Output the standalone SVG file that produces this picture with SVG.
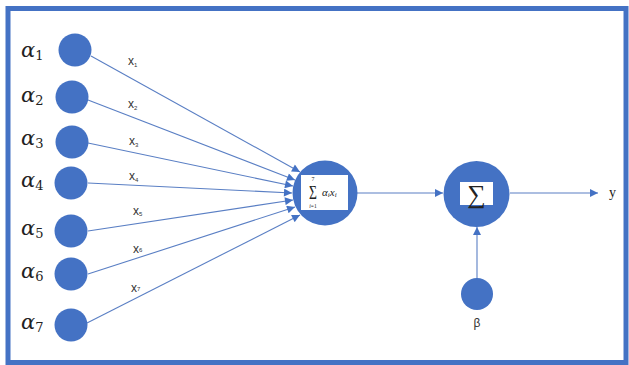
<svg xmlns="http://www.w3.org/2000/svg" width="629" height="365" viewBox="0 0 629 365">
<style>
.node{fill:#4472C4}
.edge{stroke:#5a7fc4;stroke-width:1.1;fill:none}
.al{font-family:"DejaVu Serif","Liberation Serif",serif;font-style:italic;font-size:21px;fill:#222}
.sub{font-size:13px;font-style:normal}
.xl{font-family:"Liberation Sans","DejaVu Sans",sans-serif;font-size:12px;fill:#333}
.xs{font-size:6px}
.box{fill:#fff}
.mt{font-family:"Liberation Serif","DejaVu Serif",serif;fill:#222}
</style>
<defs>
<marker id="ah" viewBox="0 0 10 10" refX="10" refY="5" markerWidth="9" markerHeight="8" markerUnits="userSpaceOnUse" orient="auto">
<path d="M0,0 L10,5 L0,10 z" fill="#4472C4"/>
</marker>
</defs>
<rect x="8" y="8.5" width="618" height="354" fill="#fff" stroke="#4472C4" stroke-width="5"/>

<g id="connectors">
<line class="edge" x1="91" y1="56" x2="300" y2="172" marker-end="url(#ah)"/>
<line class="edge" x1="88" y1="100" x2="295" y2="180" marker-end="url(#ah)"/>
<line class="edge" x1="88" y1="143" x2="293" y2="186" marker-end="url(#ah)"/>
<line class="edge" x1="88" y1="183" x2="292" y2="193" marker-end="url(#ah)"/>
<line class="edge" x1="88" y1="231" x2="293" y2="200" marker-end="url(#ah)"/>
<line class="edge" x1="88" y1="274" x2="295" y2="207" marker-end="url(#ah)"/>
<line class="edge" x1="87" y1="323" x2="300" y2="215" marker-end="url(#ah)"/>
<line class="edge" x1="357" y1="193" x2="443" y2="193" marker-end="url(#ah)"/>
<line class="edge" x1="510" y1="193" x2="598" y2="193" marker-end="url(#ah)"/>
<line class="edge" x1="477" y1="279" x2="477" y2="227" marker-end="url(#ah)"/>
</g>

<g id="a1"><circle class="node" cx="75" cy="50" r="16.5"/><text class="al" x="21" y="57">α<tspan class="sub" dy="3">1</tspan></text></g>
<g id="a2"><circle class="node" cx="72" cy="97" r="16.5"/><text class="al" x="21" y="102">α<tspan class="sub" dy="3">2</tspan></text></g>
<g id="a3"><circle class="node" cx="72" cy="142" r="16.5"/><text class="al" x="21" y="145">α<tspan class="sub" dy="3">3</tspan></text></g>
<g id="a4"><circle class="node" cx="71" cy="183" r="16.5"/><text class="al" x="21" y="187">α<tspan class="sub" dy="3">4</tspan></text></g>
<g id="a5"><circle class="node" cx="71" cy="231" r="16.5"/><text class="al" x="21" y="235">α<tspan class="sub" dy="3">5</tspan></text></g>
<g id="a6"><circle class="node" cx="71" cy="274" r="16.5"/><text class="al" x="21" y="278">α<tspan class="sub" dy="3">6</tspan></text></g>
<g id="a7"><circle class="node" cx="71" cy="325" r="16.5"/><text class="al" x="21" y="329">α<tspan class="sub" dy="3">7</tspan></text></g>

<g id="xlabels">
<text class="xl" x="128" y="65">x<tspan class="xs" dy="2">1</tspan></text>
<text class="xl" x="128" y="108">x<tspan class="xs" dy="2">2</tspan></text>
<text class="xl" x="129" y="145">x<tspan class="xs" dy="2">3</tspan></text>
<text class="xl" x="129" y="180">x<tspan class="xs" dy="2">4</tspan></text>
<text class="xl" x="133" y="215">x<tspan class="xs" dy="1">5</tspan></text>
<text class="xl" x="133" y="253">x<tspan class="xs" dy="-1">6</tspan></text>
<text class="xl" x="131" y="292">x<tspan class="xs" dy="-1">7</tspan></text>
</g>

<g id="sum1">
<circle class="node" cx="325" cy="193" r="32.5"/>
<rect class="box" x="301" y="175" width="47" height="35"/>
<text class="mt" x="313" y="181" font-size="6" text-anchor="middle">7</text>
<text class="mt" x="313" y="199" font-size="17" text-anchor="middle" transform="translate(313,199) scale(0.8,1.15) translate(-313,-199)">Σ</text>
<text class="mt" x="313" y="208" font-size="5.5" text-anchor="middle"><tspan font-style="italic">i</tspan>=1</text>
<text class="mt" x="322" y="196" font-size="11" font-style="italic">α<tspan font-size="7" dy="1">i</tspan><tspan dy="-1">x</tspan><tspan font-size="7" dy="1">i</tspan></text>
</g>

<g id="sum2">
<circle class="node" cx="476.5" cy="194" r="33"/>
<rect class="box" x="460" y="182" width="33" height="23"/>
<text class="mt" x="476.5" y="203" font-size="26" text-anchor="middle">∑</text>
</g>

<g id="beta">
<circle class="node" cx="477" cy="294" r="16"/>
<text class="xl" x="477" y="327" text-anchor="middle" font-size="12">β</text>
</g>

<g id="out">
<text class="mt" x="609" y="197" font-size="14">y</text>
</g>
</svg>
